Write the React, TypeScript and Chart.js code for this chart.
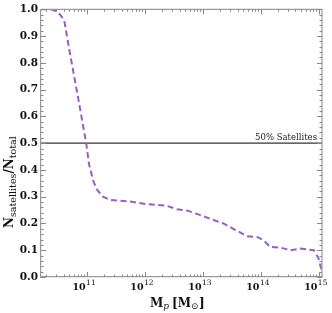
import React, { useEffect, useRef } from "react";
import { Chart, registerables } from "chart.js";

Chart.register(...registerables);

// log10 of halo mass M_p [M_sun]
const massExp = [10.21, 10.37, 10.45, 10.54, 10.61, 10.71, 10.85, 10.99, 11.04, 11.11, 11.18, 11.28, 11.40, 11.75, 12.04, 12.38, 12.56, 12.75, 12.96, 13.25, 13.36, 13.53, 13.77, 13.95, 14.05, 14.17, 14.34, 14.52, 14.69, 14.92, 15.0, 15.06];
// satellite fraction N_satellites / N_total
const satFrac = [1.0, 1.0, 0.995, 0.98, 0.96, 0.835, 0.67, 0.5, 0.42, 0.36, 0.325, 0.3, 0.288, 0.282, 0.272, 0.266, 0.253, 0.247, 0.231, 0.208, 0.2, 0.18, 0.152, 0.149, 0.137, 0.112, 0.11, 0.1, 0.106, 0.1, 0.07, 0.02];

const xDecades = [11, 12, 13, 14, 15];
const yTickLabels = ["0.0", "0.1", "0.2", "0.3", "0.4", "0.5", "0.6", "0.7", "0.8", "0.9", "1.0"];
const threshold = 0.5;
const thresholdLabel = "50% Satellites";
const xRangeExp = [10.21, 15.06];

const SERIF = "'DejaVu Serif', serif";

const decor = {
  id: "decor",
  afterDraw(chart: any) {
    const { ctx, chartArea: ca } = chart;
    const xs = chart.scales.x;
    const ys = chart.scales.y;
    ctx.save();
    // frame top/right
    ctx.strokeStyle = "#9a9a9a";
    ctx.lineWidth = 1.2;
    ctx.beginPath();
    ctx.moveTo(ca.left, ca.top);
    ctx.lineTo(ca.right, ca.top);
    ctx.lineTo(ca.right, ca.bottom);
    ctx.stroke();
    // x ticks (inward, top and bottom)
    ctx.lineWidth = 1;
    ctx.strokeStyle = "#888";
    for (let k = xDecades[0] - 2; k <= xDecades[xDecades.length - 1]; k++) {
      for (let m = 1; m <= 9; m++) {
        const v = m * Math.pow(10, k);
        if (v < xs.min || v > xs.max) continue;
        const px = Math.round(xs.getPixelForValue(v)) + 0.5;
        const len = m === 1 ? 5 : 2.5;
        ctx.beginPath();
        ctx.moveTo(px, ca.bottom);
        ctx.lineTo(px, ca.bottom - len);
        ctx.moveTo(px, ca.top);
        ctx.lineTo(px, ca.top + len);
        ctx.stroke();
      }
    }
    // y ticks (inward, left and right), 4 minor between majors
    const nMajor = yTickLabels.length - 1;
    for (let i = 0; i <= nMajor * 5; i++) {
      const v = i / (nMajor * 5);
      const py = Math.round(ys.getPixelForValue(v)) + 0.5;
      const len = i % 5 === 0 ? 5 : 2.5;
      ctx.beginPath();
      ctx.moveTo(ca.left, py);
      ctx.lineTo(ca.left + len, py);
      ctx.moveTo(ca.right, py);
      ctx.lineTo(ca.right - len, py);
      ctx.stroke();
    }
    // x tick labels 10^k
    ctx.fillStyle = "#111";
    ctx.textBaseline = "alphabetic";
    ctx.textAlign = "left";
    for (const k of xDecades) {
      const px = xs.getPixelForValue(Math.pow(10, k));
      ctx.font = `bold 9.5px ${SERIF}`;
      const w1 = ctx.measureText("10").width;
      ctx.font = `7.5px ${SERIF}`;
      const w2 = ctx.measureText(String(k)).width;
      const x0 = px - 3 - (w1 + w2) / 2;
      ctx.font = `bold 9.5px ${SERIF}`;
      ctx.fillText("10", x0, 289.5);
      ctx.font = `7.5px ${SERIF}`;
      ctx.fillText(String(k), x0 + w1 + 0.5, 285);
    }
    // x title: M_p [M_sun]
    let x = 150;
    const by = 306.5;
    ctx.font = `bold 12px ${SERIF}`;
    ctx.fillText("M", x, by);
    x += ctx.measureText("M").width;
    ctx.font = `italic 9px ${SERIF}`;
    ctx.fillText("p", x, by + 2.5);
    x += ctx.measureText("p").width + 3;
    ctx.font = `bold 12px ${SERIF}`;
    ctx.fillText("[M", x, by);
    x += ctx.measureText("[M").width;
    ctx.font = `9px ${SERIF}`;
    ctx.fillText("\u2299", x, by + 2.5);
    x += ctx.measureText("\u2299").width + 0.5;
    ctx.font = `bold 12px ${SERIF}`;
    ctx.fillText("]", x, by);
    // y title: N_satellites / N_total
    ctx.save();
    ctx.translate(12.5, 228);
    ctx.rotate(-Math.PI / 2);
    let t = 0;
    const parts: [string, boolean][] = [["N", false], ["satellites", true], ["/N", false], ["total", true]];
    for (const [s, sub] of parts) {
      ctx.font = sub ? `9.5px ${SERIF}` : `bold 12px ${SERIF}`;
      ctx.fillText(s, t, sub ? 3 : 0);
      t += ctx.measureText(s).width;
    }
    ctx.restore();
    // threshold label
    ctx.font = `8.5px ${SERIF}`;
    ctx.textAlign = "right";
    ctx.fillStyle = "#222";
    ctx.fillText(thresholdLabel, ca.right - 5, ys.getPixelForValue(threshold) - 3);
    ctx.restore();
  },
};

export default function App() {
  const ref = useRef<HTMLCanvasElement>(null);
  useEffect(() => {
    if (!ref.current) return;
    const xMin = Math.pow(10, xRangeExp[0]);
    const xMax = Math.pow(10, xRangeExp[1]);
    const chart = new Chart(ref.current, {
      type: "line",
      data: {
        datasets: [
          {
            data: massExp.map((e, i) => ({ x: Math.pow(10, e), y: satFrac[i] })),
            borderColor: "#9b5cc4",
            borderWidth: 2,
            borderDash: [6, 3.5],
            pointRadius: 0,
            fill: false,
            tension: 0,
          },
          {
            data: [
              { x: xMin, y: threshold },
              { x: xMax, y: threshold },
            ],
            borderColor: "#333",
            borderWidth: 1.4,
            pointRadius: 0,
            fill: false,
          },
        ],
      },
      options: {
        animation: false,
        responsive: false,
        maintainAspectRatio: false,
        layout: { padding: { top: 6, right: 10, left: 0, bottom: 0 } },
        plugins: { legend: { display: false }, tooltip: { enabled: false } },
        scales: {
          x: {
            type: "logarithmic",
            min: xMin,
            max: xMax,
            ticks: { display: false },
            grid: { display: true, drawOnChartArea: false, drawTicks: false },
            border: { display: true, color: "#9a9a9a", width: 1.2 },
            afterFit: (s: any) => {
              s.height = 36;
            },
          },
          y: {
            type: "linear",
            min: 0,
            max: 1,
            ticks: {
              stepSize: 0.1,
              padding: 3,
              color: "#111",
              font: { family: SERIF, size: 10.5, weight: "bold" },
              callback: (v: any) => {
                const idx = Math.round(Number(v) * 10);
                return yTickLabels[idx] ?? "";
              },
            },
            grid: { display: true, drawOnChartArea: false, drawTicks: false },
            border: { display: true, color: "#9a9a9a", width: 1.2 },
            afterFit: (s: any) => {
              s.width = 41;
            },
          },
        },
      },
      plugins: [decor],
    });
    return () => chart.destroy();
  }, []);
  return (
    <div style={{ position: "absolute", left: 0, top: 0, width: 332, height: 313, background: "#fff" }}>
      <canvas ref={ref} width={332} height={313} style={{ display: "block", width: 332, height: 313 }} />
    </div>
  );
}
